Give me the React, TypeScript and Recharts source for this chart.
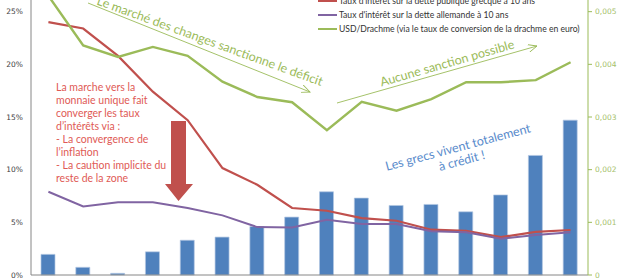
import { ComposedChart, Bar, Line, XAxis, YAxis } from "recharts";

const years = ["1992", "1993", "1994", "1995", "1996", "1997", "1998", "1999", "2000", "2001", "2002", "2003", "2004", "2005", "2006", "2007"];
// déficit courant (% du PIB), barres
const deficit = [1.96, 0.73, 0.16, 2.2, 3.3, 3.6, 4.6, 5.5, 7.9, 7.3, 6.6, 6.7, 6.0, 7.6, 11.35, 14.7];
// taux à 10 ans (%)
const grece = [24.0, 23.4, 20.8, 17.4, 14.7, 10.15, 8.57, 6.36, 6.1, 5.4, 5.15, 4.3, 4.2, 3.6, 4.1, 4.27];
const allemagne = [7.9, 6.5, 6.9, 6.9, 6.36, 5.66, 4.55, 4.5, 5.25, 4.84, 4.84, 4.15, 4.05, 3.45, 3.8, 4.05];
// USD/Drachme
const usdDrachme = [0.0053, 0.00436, 0.00414, 0.00433, 0.00416, 0.00367, 0.00338, 0.00328, 0.00275, 0.00329, 0.00312, 0.00334, 0.00366, 0.00366, 0.0037, 0.00404];

const leftTicks = [0, 5, 10, 15, 20, 25];
const rightTicks = [0, 0.001, 0.002, 0.003, 0.004, 0.005];

const seriesNames = [
  "Taux d'intérêt sur la dette publique grecque à 10 ans",
  "Taux d'intérêt sur la dette allemande à 10 ans",
  "USD/Drachme (via le taux de conversion de la drachme en euro)",
];
const seriesColors = ["#c0504d", "#8064a2", "#9bbb59"];

const redNote = [
  "La marche vers la",
  "monnaie unique fait",
  "converger les taux",
  "d’intérêts via :",
  "- La convergence de",
  "l’inflation",
  "- La caution implicite du",
  "reste de la zone",
];

const rows = years.map((y, i) => ({
  year: y,
  deficit: deficit[i],
  grece: grece[i],
  allemagne: allemagne[i],
  usd: usdDrachme[i],
}));

const font = "Lato, 'Open Sans', sans-serif";
const green = "#9bbb59";

export default function App() {
  return (
    <div style={{ position: "absolute", left: 0, top: 0, width: 630, height: 278, overflow: "hidden", background: "#fff" }}>
      <div style={{ position: "absolute", left: 0, top: -41 }}>
        <ComposedChart width={630} height={330} data={rows} margin={{ top: 0, right: 0, bottom: 0, left: 0 }}>
          <XAxis dataKey="year" height={14} tick={false} tickLine={false} axisLine={{ stroke: "#868686" }} />
          <YAxis
            yAxisId="left"
            width={31}
            domain={[0, 30]}
            ticks={leftTicks}
            tickFormatter={(v: number) => `${v}%`}
            tickLine={false}
            axisLine={{ stroke: "#868686" }}
            tick={{ fill: "#404040", fontSize: 7.5, fontFamily: "DejaVu Sans" }}
          />
          <YAxis
            yAxisId="right"
            orientation="right"
            width={42}
            domain={[0, 0.006]}
            ticks={rightTicks}
            tickFormatter={(v: number) => (v === 0 ? "0" : v.toFixed(3).replace(".", ","))}
            tickSize={4}
            tickMargin={3}
            tickLine={{ stroke: green }}
            axisLine={{ stroke: green }}
            tick={{ fill: "#a5c16b", fontSize: 7.5, fontFamily: "DejaVu Sans" }}
          />
          <Bar yAxisId="left" dataKey="deficit" fill="#4f81bd" stroke="#b3c7e2" strokeWidth={0.7} barSize={14} isAnimationActive={false} />
          <Line yAxisId="left" dataKey="grece" stroke="#c0504d" strokeWidth={2.2} dot={false} isAnimationActive={false} />
          <Line yAxisId="left" dataKey="allemagne" stroke="#8064a2" strokeWidth={2} dot={false} isAnimationActive={false} />
          <Line yAxisId="right" dataKey="usd" stroke={green} strokeWidth={2.4} dot={false} isAnimationActive={false} />
        </ComposedChart>
      </div>
      <svg width={630} height={278} style={{ position: "absolute", left: 0, top: 0, pointerEvents: "none" }}>
        <defs>
          <marker id="vhead" markerWidth="10" markerHeight="8" refX="9" refY="4" orient="auto" markerUnits="userSpaceOnUse">
            <path d="M0,0 L9,4 L0,8" fill="none" stroke={green} strokeWidth={0.9} />
          </marker>
        </defs>
        {/* légende */}
        {seriesNames.map((n, i) => (
          <g key={n}>
            <line x1={318} x2={337} y1={1 + i * 14} y2={1 + i * 14} stroke={seriesColors[i]} strokeWidth={2} />
            <text x={339} y={1 + i * 14} dominantBaseline="central" fontSize={8.6} fontFamily={font} fill="#333">
              {n}
            </text>
          </g>
        ))}
        {/* annotations vertes */}
        <line x1={88} y1={3} x2={310} y2={92} stroke={green} strokeWidth={0.9} markerEnd="url(#vhead)" />
        <text x={210} y={41} textAnchor="middle" dominantBaseline="central" transform="rotate(20 210 41)" fontSize={12.5} fontFamily={font} fill={green}>
          Le marché des changes sanctionne le déficit
        </text>
        <line x1={337} y1={103} x2={537} y2={46} stroke={green} strokeWidth={0.9} markerEnd="url(#vhead)" />
        <text x={447} y={63} textAnchor="middle" dominantBaseline="central" transform="rotate(-16 447 63)" fontSize={12.5} fontFamily={font} fill={green}>
          Aucune sanction possible
        </text>
        {/* texte rouge */}
        {redNote.map((l, i) => (
          <text key={i} x={56} y={87 + i * 13} dominantBaseline="central" fontSize={10.5} fontFamily={font} fill="#e05a55">
            {l}
          </text>
        ))}
        <polygon points="171,121 186,121 186,184 193,184 178.5,201 165,184 171,184" fill="#c0504d" />
        {/* texte bleu */}
        <g transform="rotate(-15 458 147)" fontSize={12.5} fontFamily={font} fill="#5a8ccc" textAnchor="middle">
          <text x={458} y={147} dominantBaseline="central">Les grecs vivent totalement</text>
          <text x={458} y={161} dominantBaseline="central">à crédit !</text>
        </g>
      </svg>
    </div>
  );
}
